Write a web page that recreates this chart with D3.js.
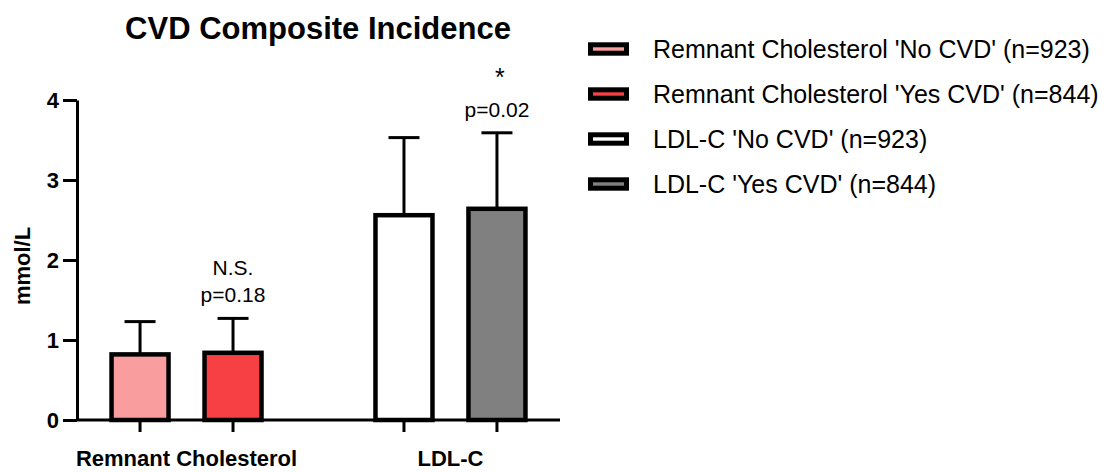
<!DOCTYPE html>
<html>
<head>
<meta charset="utf-8">
<script src="https://cdn.jsdelivr.net/npm/d3@7"></script>
<style>
  body { margin: 0; background: #fff; }
  text { font-family: "Liberation Sans", Arial, sans-serif; }
</style>
</head>
<body>
<div id="wrapper"></div>
<script>
// data
const groups = ["Remnant Cholesterol", "LDL-C"]
const status = ["No CVD", "Yes CVD"]
const means = [[0.82, 0.84], [2.56, 2.64]]
const upperErr = [[1.23, 1.27], [3.53, 3.59]]
const fills = [["#fa9d9f", "#f64043"], ["#ffffff", "#808080"]]
const pLabels = [["N.S.", "p=0.18"], ["*", "p=0.02"]]
const legendLabels = [
  "Remnant Cholesterol 'No CVD' (n=923)",
  "Remnant Cholesterol 'Yes CVD' (n=844)",
  "LDL-C 'No CVD' (n=923)",
  "LDL-C 'Yes CVD' (n=844)"
]
const yTicks = [0, 1, 2, 3, 4]

const bars = []
groups.forEach((g, i) => status.forEach((s, j) => bars.push({
  group: g, status: s, mean: means[i][j], top: upperErr[i][j], fill: fills[i][j]
})))

const dims = {
  width: 1114,
  height: 472,
  margin: { top: 100, right: 554, bottom: 52, left: 77 }
}
dims.boundedWidth = dims.width - dims.margin.left - dims.margin.right
dims.boundedHeight = dims.height - dims.margin.top - dims.margin.bottom

const svg = d3.select("#wrapper").append("svg")
  .attr("width", dims.width)
  .attr("height", dims.height)

const bounds = svg.append("g")
  .attr("transform", `translate(${dims.margin.left},${dims.margin.top})`)

// scales
const yScale = d3.scaleLinear()
  .domain([0, 4])
  .range([dims.boundedHeight, 0])

const xScale = d3.scaleBand()
  .domain(groups)
  .range([0, dims.boundedWidth])
  .paddingInner(0.3)
  .paddingOuter(0.065)

const x1Scale = d3.scaleBand()
  .domain(status)
  .range([0, xScale.bandwidth()])
  .paddingInner(0.387)
  .paddingOuter(0.187)

const barX = d => xScale(d.group) + x1Scale(d.status)
const barMid = d => barX(d) + x1Scale.bandwidth() / 2
const capHalf = 15.5

// error bars (behind bars)
const err = bounds.append("g")
err.selectAll("line.stem")
  .data(bars)
  .join("line")
    .attr("class", "stem")
    .attr("x1", barMid).attr("x2", barMid)
    .attr("y1", d => yScale(d.mean))
    .attr("y2", d => yScale(d.top))
    .attr("stroke", "#000")
    .attr("stroke-width", 3)
err.selectAll("line.cap")
  .data(bars)
  .join("line")
    .attr("class", "cap")
    .attr("x1", d => barMid(d) - capHalf)
    .attr("x2", d => barMid(d) + capHalf)
    .attr("y1", d => yScale(d.top))
    .attr("y2", d => yScale(d.top))
    .attr("stroke", "#000")
    .attr("stroke-width", 3)

// bars
bounds.append("g").selectAll("rect")
  .data(bars)
  .join("rect")
    .attr("x", barX)
    .attr("y", d => yScale(d.mean))
    .attr("width", x1Scale.bandwidth())
    .attr("height", d => yScale(0) - yScale(d.mean))
    .attr("fill", d => d.fill)
    .attr("stroke", "#000")
    .attr("stroke-width", 4.5)

// y axis
const yAxis = bounds.append("g")
  .call(d3.axisLeft(yScale)
    .tickValues(yTicks)
    .tickFormat(d3.format("d"))
    .tickSize(14)
    .tickSizeOuter(0)
    .tickPadding(4))
yAxis.select(".domain").attr("stroke-width", 3)
yAxis.selectAll(".tick line").attr("stroke-width", 3)
yAxis.selectAll(".tick text")
  .attr("font-family", "Liberation Sans, Arial, sans-serif")
  .attr("font-size", 22)
  .attr("font-weight", "bold")
  .attr("fill", "#000")

// x axis
const xAxis = bounds.append("g")
  .attr("transform", `translate(0,${dims.boundedHeight})`)
xAxis.append("line")
  .attr("x1", 0).attr("x2", dims.boundedWidth)
  .attr("stroke", "#000").attr("stroke-width", 3)
xAxis.selectAll("line.tick")
  .data(bars)
  .join("line")
    .attr("class", "tick")
    .attr("x1", barMid).attr("x2", barMid)
    .attr("y1", 0).attr("y2", 12)
    .attr("stroke", "#000").attr("stroke-width", 3)
xAxis.selectAll("text")
  .data(groups)
  .join("text")
    .attr("x", d => xScale(d) + xScale.bandwidth() / 2)
    .attr("y", 46)
    .attr("text-anchor", "middle")
    .attr("font-size", 22)
    .attr("font-weight", "bold")
    .text(d => d)

bounds.append("text")
  .attr("transform", `translate(${-47},${dims.boundedHeight / 2 + 6}) rotate(-90)`)
  .attr("text-anchor", "middle")
  .attr("font-size", 22)
  .attr("font-weight", "bold")
  .text("mmol/L")

// significance labels over the 'Yes' bars
const sig = bars.filter(d => d.status === "Yes CVD")
sig.forEach((d, i) => {
  const base = yScale(d.top) - 16
  const star = pLabels[i][0] === "*"
  bounds.append("text")
    .attr("x", barMid(d) + (star ? 3 : 0))
    .attr("y", star ? base - 31 : base - 27)
    .attr("text-anchor", "middle")
    .attr("font-size", star ? 25 : 21)
    .text(pLabels[i][0])
  bounds.append("text")
    .attr("x", barMid(d))
    .attr("y", base)
    .attr("text-anchor", "middle")
    .attr("font-size", 21)
    .text(pLabels[i][1])
})

// title
svg.append("text")
  .attr("x", 318)
  .attr("y", 39)
  .attr("text-anchor", "middle")
  .attr("font-size", 31)
  .attr("font-weight", "bold")
  .text("CVD Composite Incidence")

// legend
const legend = svg.append("g")
  .attr("transform", "translate(588,49)")
const items = legend.selectAll("g")
  .data(legendLabels)
  .join("g")
    .attr("transform", (d, i) => `translate(0,${i * 45})`)
items.append("rect")
  .attr("x", 2.5).attr("y", -4.2)
  .attr("width", 36).attr("height", 8.4)
  .attr("fill", (d, i) => fills[Math.floor(i / 2)][i % 2])
  .attr("stroke", "#000")
  .attr("stroke-width", 5)
items.append("text")
  .attr("x", 65)
  .attr("y", 9)
  .attr("font-size", 25)
  .text(d => d)
</script>
</body>
</html>
